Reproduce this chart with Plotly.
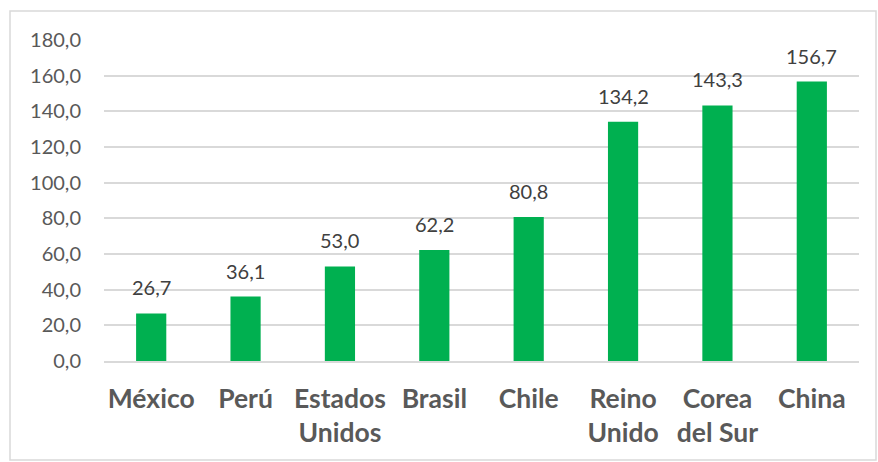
import plotly.graph_objects as go

categories = ["México", "Perú", "Estados<br>Unidos", "Brasil", "Chile",
              "Reino<br>Unido", "Corea<br>del Sur", "China"]
values = [26.7, 36.1, 53.0, 62.2, 80.8, 134.2, 143.3, 156.7]
y_ticks = [0, 20, 40, 60, 80, 100, 120, 140, 160, 180]
y_tick_labels = [f"{v:.1f}".replace(".", ",") for v in y_ticks]

W, H = 878, 462
L, R, T, B = 104, 19, 40, 101
FONT = "Lato, Open Sans, sans-serif"

fig = go.Figure(go.Bar(
    x=categories,
    y=values,
    marker=dict(color="#00B050", line=dict(width=0)),
    width=0.32,
))

# value labels above each bar
for cat, v in zip(categories, values):
    fig.add_annotation(
        x=cat, y=v, xref="x", yref="y",
        text=f"{v:.1f}".replace(".", ","),
        showarrow=False, yanchor="bottom", yshift=12,
        font=dict(family=FONT, size=20, color="#404040"),
    )

# outer chart border
pw, ph = W - L - R, H - T - B
fig.add_shape(
    type="rect", xref="paper", yref="paper",
    x0=(10 - L) / pw, x1=(876 - L) / pw,
    y0=-(460 - (H - B)) / ph,
    y1=1 + (T - 11) / ph,
    line=dict(color="#D9D9D9", width=1.5),
    layer="below",
)

fig.update_layout(
    width=W, height=H,
    margin=dict(l=L, r=R, t=T, b=B),
    paper_bgcolor="white",
    plot_bgcolor="white",
    showlegend=False,
    xaxis=dict(
        showgrid=False,
        showline=True, linecolor="#D9D9D9", linewidth=2,
        ticks="",
        tickfont=dict(family=FONT, size=26.5, color="#595959", weight="bold"),
        ticklabelstandoff=13,
    ),
    yaxis=dict(
        range=[0, 180],
        tickvals=y_ticks,
        ticktext=y_tick_labels,
        showgrid=True, gridcolor="#D9D9D9", gridwidth=1.5,
        zeroline=False,
        showline=False,
        ticks="",
        tickfont=dict(family=FONT, size=20, color="#595959"),
        ticklabelstandoff=22,
    ),
)

fig.write_html("out.html")
